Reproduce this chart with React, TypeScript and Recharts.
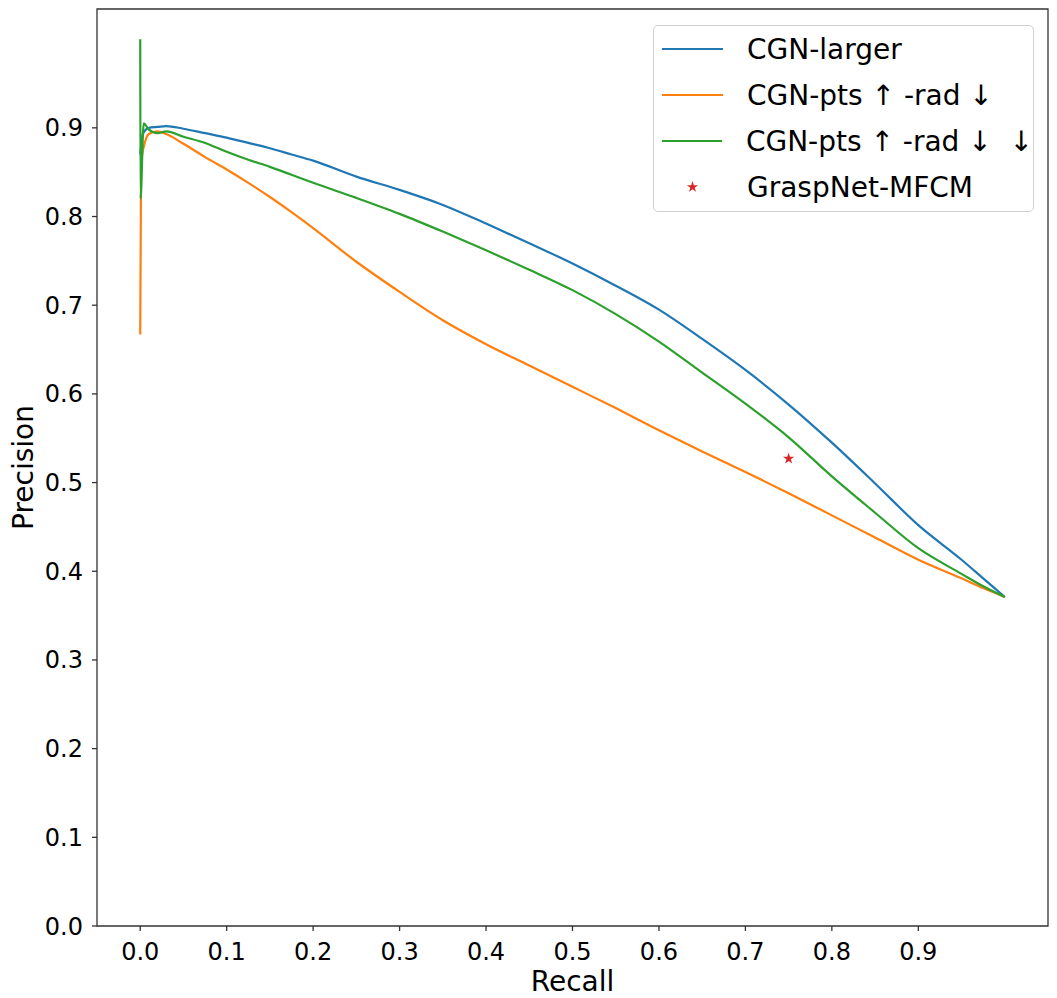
import { ComposedChart, Line, Scatter, XAxis, YAxis, ZAxis, ReferenceArea, Legend, Symbols } from 'recharts';

const FONT = '"DejaVu Sans", "Noto Sans", sans-serif';

// shared recall grid after the noisy start of each curve
const recallGrid = [0.01, 0.02, 0.03, 0.05, 0.075, 0.1, 0.125, 0.15, 0.175, 0.2, 0.25, 0.3, 0.35, 0.4, 0.45, 0.5, 0.55, 0.6, 0.65, 0.7, 0.75, 0.8, 0.85, 0.9, 0.95, 0.975, 1.0];

const largerHeadRecall = [0, 0.003];
const largerHeadPrecision = [0.87, 0.893];
const largerPrecision = [0.900, 0.901, 0.902, 0.899, 0.894, 0.889, 0.883, 0.877, 0.870, 0.863, 0.845, 0.830, 0.813, 0.792, 0.770, 0.747, 0.722, 0.695, 0.662, 0.627, 0.588, 0.545, 0.499, 0.452, 0.413, 0.392, 0.371];

const ptsHeadRecall = [0, 0.001, 0.005];
const ptsHeadPrecision = [0.667, 0.86, 0.882];
const ptsPrecision = [0.893, 0.896, 0.893, 0.882, 0.867, 0.853, 0.838, 0.822, 0.805, 0.787, 0.749, 0.715, 0.683, 0.656, 0.632, 0.608, 0.584, 0.559, 0.535, 0.512, 0.488, 0.463, 0.438, 0.413, 0.392, 0.381, 0.371];

const pts2HeadRecall = [0, 0.0003, 0.004];
const pts2HeadPrecision = [1.0, 0.82, 0.905];
const pts2Precision = [0.898, 0.894, 0.896, 0.890, 0.883, 0.873, 0.864, 0.856, 0.847, 0.838, 0.821, 0.803, 0.783, 0.762, 0.740, 0.717, 0.690, 0.659, 0.624, 0.589, 0.551, 0.507, 0.466, 0.426, 0.397, 0.383, 0.371];

const mfcmRecall = [0.75];
const mfcmPrecision = [0.527];

const tickValues = [0, 0.1, 0.2, 0.3, 0.4, 0.5, 0.6, 0.7, 0.8, 0.9];
const seriesNames = ['CGN-larger', 'CGN-pts ↑ -rad ↓', 'CGN-pts ↑ -rad ↓  ↓', 'GraspNet-MFCM'];
const seriesColors = ['#1f77b4', '#ff7f0e', '#2ca02c', '#d62728'];

const toPoints = (rs: number[], ps: number[]) => rs.map((r, i) => ({ recall: r, precision: ps[i] }));

const largerData = toPoints(largerHeadRecall.concat(recallGrid), largerHeadPrecision.concat(largerPrecision));
const ptsData = toPoints(ptsHeadRecall.concat(recallGrid), ptsHeadPrecision.concat(ptsPrecision));
const pts2Data = toPoints(pts2HeadRecall.concat(recallGrid), pts2HeadPrecision.concat(pts2Precision));
const mfcmData = toPoints(mfcmRecall, mfcmPrecision);

const tickStyle = { fontSize: 24, fill: '#000', fontFamily: FONT };
const tickLine = { stroke: '#333', strokeWidth: 1.3 };

function LegendBox() {
  return (
    <div style={{ width: 381, height: 187, boxSizing: 'border-box', border: '1px solid #d0d0d0', borderRadius: 5, background: 'rgba(255,255,255,0.8)', fontFamily: FONT, fontSize: 28, color: '#000' }}>
      {seriesNames.map((name, i) => (
        <div key={name} style={{ display: 'flex', alignItems: 'center', height: 46 }}>
          <svg width={61} height={20} style={{ marginLeft: 8 }}>
            {i < 3 ? (
              <line x1={0} y1={10} x2={61} y2={10} stroke={seriesColors[i]} strokeWidth={2.2} />
            ) : (
              <Symbols type="star" size={40} cx={30.5} cy={10} fill={seriesColors[i]} />
            )}
          </svg>
          <span style={{ marginLeft: 24, whiteSpace: 'pre' }}>{name}</span>
        </div>
      ))}
    </div>
  );
}

export default function App() {
  return (
    <div style={{ position: 'absolute', left: 0, top: 0, background: '#fff' }}>
      <ComposedChart width={1057} height={998} margin={{ top: 9, right: 9, bottom: 0, left: 0 }}>
        <XAxis
          type="number"
          dataKey="recall"
          domain={[-0.05, 1.05]}
          ticks={tickValues}
          allowDataOverflow
          height={72}
          axisLine={false}
          tickLine={tickLine}
          tickSize={5}
          tickMargin={12}
          tick={tickStyle}
          tickFormatter={(v: number) => v.toFixed(1)}
          label={{ content: () => <text x={572.5} y={991} textAnchor="middle" fontSize={28} fontFamily={FONT} fill="#000">Recall</text> }}
        />
        <YAxis
          type="number"
          dataKey="precision"
          domain={[0, 1.034]}
          ticks={tickValues}
          allowDataOverflow
          width={97}
          axisLine={false}
          tickLine={tickLine}
          tickSize={5}
          tickMargin={9}
          tick={tickStyle}
          tickFormatter={(v: number) => v.toFixed(1)}
          label={{ content: () => <text transform="translate(33, 467.5) rotate(-90)" textAnchor="middle" fontSize={28} fontFamily={FONT} fill="#000">Precision</text> }}
        />
        <ZAxis range={[40, 40]} />
        <ReferenceArea x1={-0.05} x2={1.05} y1={0} y2={1.034} fill="none" stroke="#333" strokeWidth={1.3} />
        <Line type="monotone" data={largerData} dataKey="precision" name={seriesNames[0]} stroke={seriesColors[0]} strokeWidth={2.2} dot={false} isAnimationActive={false} />
        <Line type="monotone" data={ptsData} dataKey="precision" name={seriesNames[1]} stroke={seriesColors[1]} strokeWidth={2.2} dot={false} isAnimationActive={false} />
        <Line type="monotone" data={pts2Data} dataKey="precision" name={seriesNames[2]} stroke={seriesColors[2]} strokeWidth={2.2} dot={false} isAnimationActive={false} />
        <Scatter data={mfcmData} dataKey="precision" name={seriesNames[3]} fill={seriesColors[3]} shape="star" isAnimationActive={false} />
        <Legend
          layout="vertical"
          align="center"
          verticalAlign="middle"
          wrapperStyle={{ left: 653, top: 25, width: 381 }}
          content={() => <LegendBox />}
        />
      </ComposedChart>
    </div>
  );
}
